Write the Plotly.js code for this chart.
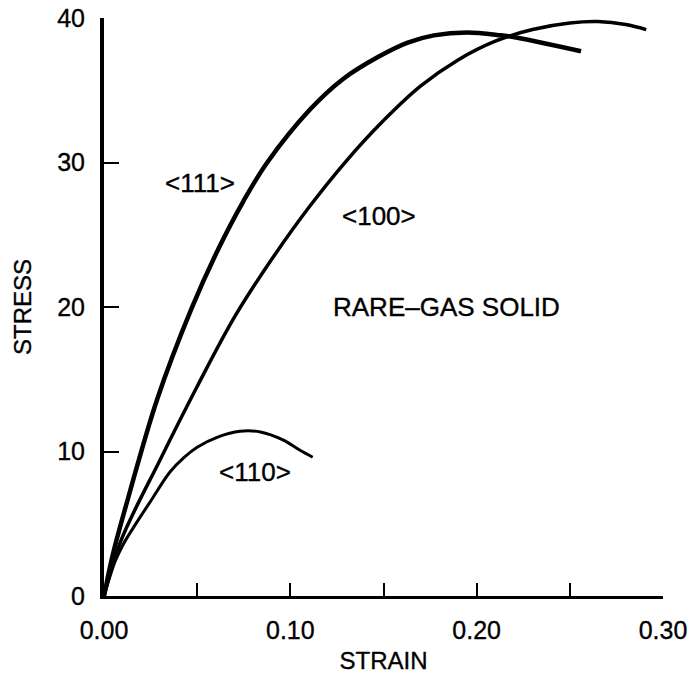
<!DOCTYPE html>
<html>
<head>
<meta charset="utf-8">
<script src="https://cdn.plot.ly/plotly-3.0.1.min.js"></script>
<style>
html,body{margin:0;padding:0;background:#fff;}
#chart{width:694px;height:676px;}
#chart svg text{stroke:#000;stroke-width:0.35px;}
</style>
</head>
<body>
<div id="chart"></div>
<script>
// Data
var strain111 = [0, 0.005, 0.013, 0.0285, 0.047, 0.0613, 0.0747, 0.0876, 0.1108, 0.1285, 0.147, 0.163, 0.177, 0.195, 0.213, 0.219, 0.256];
var stress111 = [0, 3.0, 6.8, 13.6, 19.9, 24.0, 27.3, 30.0, 33.7, 35.8, 37.3, 38.3, 38.8, 39.0, 38.8, 38.7, 37.7];

var strain100 = [0, 0.009, 0.030, 0.050, 0.070, 0.090, 0.110, 0.130, 0.150, 0.170, 0.190, 0.210, 0.230, 0.250, 0.265, 0.280, 0.291];
var stress100 = [0, 3.8, 9.4, 14.5, 19.3, 23.3, 26.9, 30.1, 32.9, 35.3, 37.1, 38.4, 39.2, 39.65, 39.75, 39.55, 39.2];

var strain110 = [0, 0.006, 0.010, 0.0156, 0.0247, 0.0355, 0.043, 0.050, 0.061, 0.073, 0.084, 0.096, 0.105, 0.112];
var stress110 = [0, 2.4, 3.5, 4.7, 6.5, 8.6, 9.6, 10.3, 11.0, 11.4, 11.35, 10.8, 10.1, 9.6];

var xTickVals = [0, 0.05, 0.10, 0.15, 0.20, 0.25, 0.30];
var xTickText = ['0.00', '', '0.10', '', '0.20', '', '0.30'];
var yTickVals = [0, 10, 20, 30, 40];
var yTickText = ['0', '10', '20', '30', '40'];

var curveLabels = ['<111>', '<100>', '<110>', 'RARE\u2013GAS SOLID'];
var labelX = [0.0516, 0.1478, 0.0812, 0.1839];
var labelY = [28.55, 26.3, 8.55, 20.0];

var fontFam = '"Liberation Sans", Arial, Helvetica, sans-serif';

var traces = [
  {x: strain111, y: stress111, mode: 'lines', line: {color: '#000', width: 4.5, shape: 'spline', smoothing: 1}, hoverinfo: 'skip'},
  {x: strain100, y: stress100, mode: 'lines', line: {color: '#000', width: 3.5, shape: 'spline', smoothing: 1}, hoverinfo: 'skip'},
  {x: strain110, y: stress110, mode: 'lines', line: {color: '#000', width: 3, shape: 'spline', smoothing: 1}, hoverinfo: 'skip'}
];

var annotations = curveLabels.map(function (t, i) {
  return {x: labelX[i], y: labelY[i], xref: 'x', yref: 'y', text: t.replace(/</g, '&lt;').replace(/>/g, '&gt;'),
    showarrow: false, xanchor: 'center', yanchor: 'middle',
    font: {family: fontFam, size: 26, color: '#000'}};
});

var layout = {
  width: 694, height: 676,
  margin: {l: 104, r: 31, t: 18, b: 80},
  paper_bgcolor: '#fff', plot_bgcolor: '#fff',
  showlegend: false,
  font: {family: fontFam, color: '#000'},
  xaxis: {
    range: [0, 0.30], tickvals: xTickVals, ticktext: xTickText,
    ticks: 'inside', ticklen: 13, tickwidth: 2, tickcolor: '#000',
    showline: true, linecolor: '#000', linewidth: 2.5,
    showgrid: false, zeroline: false,
    tickfont: {size: 25, color: '#000'}, ticklabelstandoff: 10,
    title: {text: 'STRAIN', font: {size: 24, color: '#000'}, standoff: 10}
  },
  yaxis: {
    range: [0, 40], tickvals: yTickVals, ticktext: yTickText,
    ticks: 'inside', ticklen: 15, tickwidth: 2, tickcolor: '#000',
    showline: true, linecolor: '#000', linewidth: 4,
    showgrid: false, zeroline: false,
    tickfont: {size: 25, color: '#000'}, ticklabelstandoff: 10,
    title: {text: 'STRESS', font: {size: 24, color: '#000'}, standoff: 20}
  },
  annotations: annotations
};

Plotly.newPlot('chart', traces, layout, {displayModeBar: false, staticPlot: true});
</script>
</body>
</html>
